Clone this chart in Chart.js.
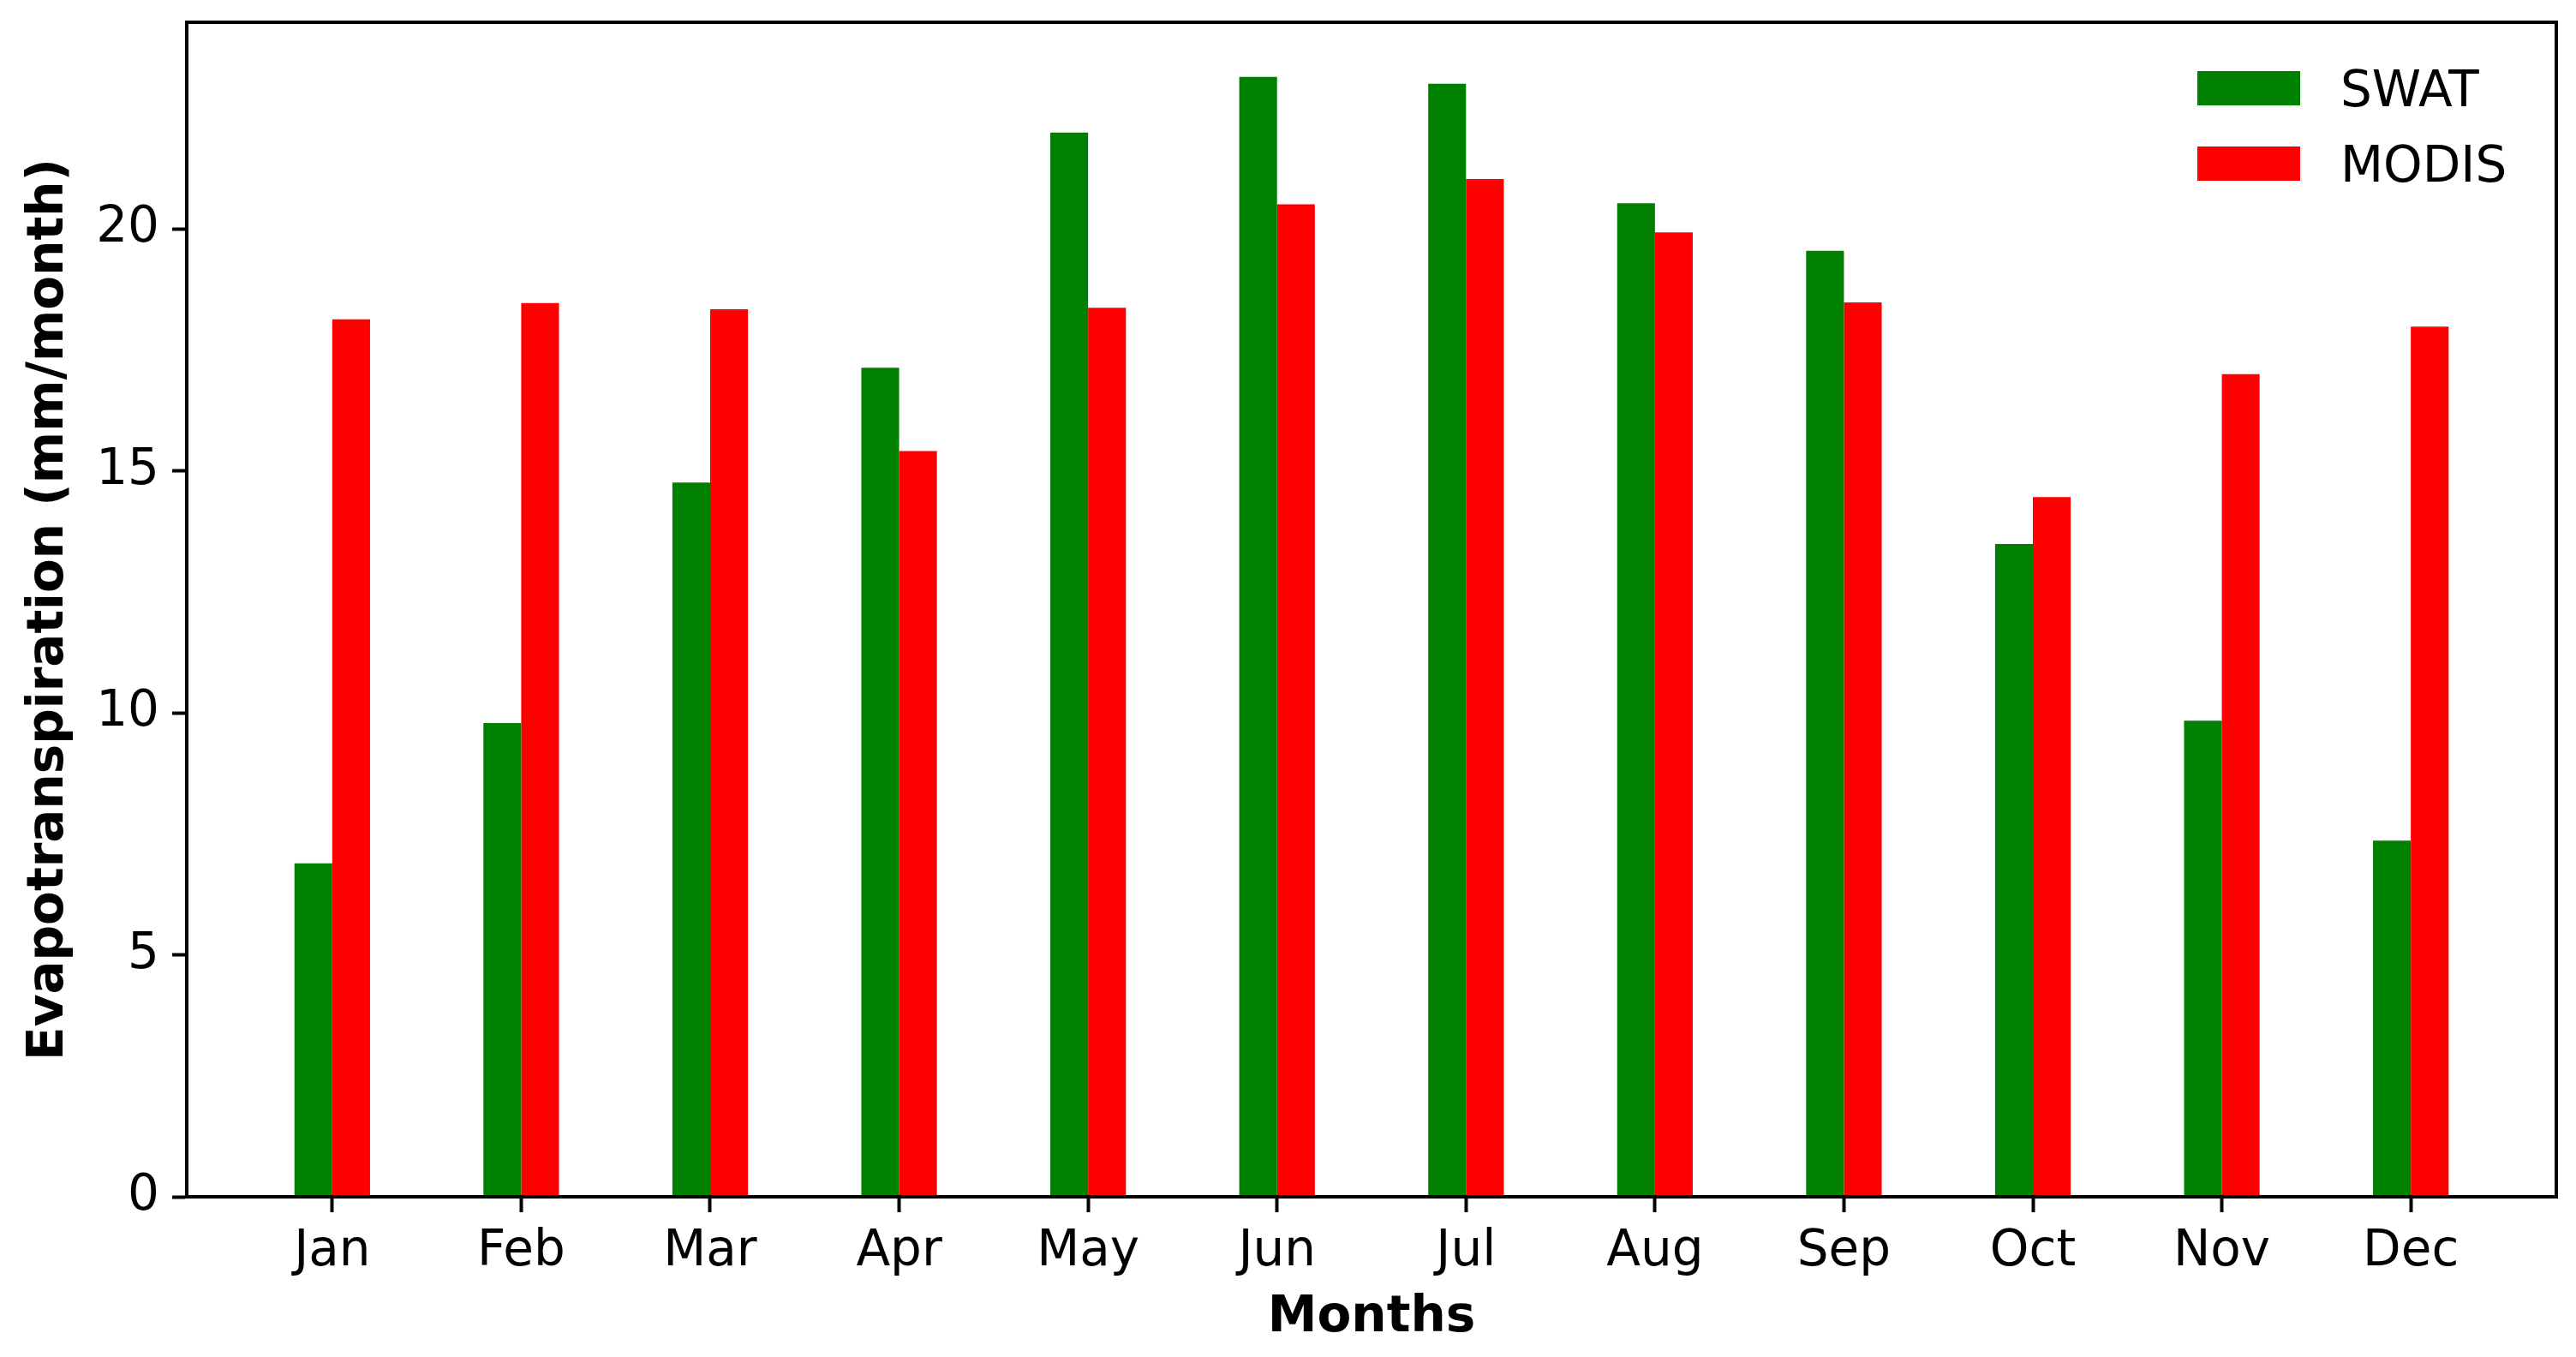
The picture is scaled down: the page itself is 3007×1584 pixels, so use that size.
<!DOCTYPE html>
<html>
<head>
<meta charset="utf-8">
<script src="https://cdn.jsdelivr.net/npm/chart.js@4.4.1/dist/chart.umd.min.js"></script>
<style>
  html, body { margin: 0; padding: 0; background: #ffffff; }
  canvas { display: block; }
</style>
</head>
<body>
<canvas id="c" width="3007" height="1584"></canvas>
<script>
const months = ['Jan', 'Feb', 'Mar', 'Apr', 'May', 'Jun', 'Jul', 'Aug', 'Sep', 'Oct', 'Nov', 'Dec'];
const swat  = [6.89, 9.79, 14.76, 17.13, 21.99, 23.14, 23.00, 20.53, 19.55, 13.49, 9.84, 7.36];
const modis = [18.13, 18.47, 18.34, 15.41, 18.37, 20.51, 21.03, 19.93, 18.48, 14.46, 17.00, 17.98];
const yTicks = [0, 5, 10, 15, 20];
const seriesNames = ['SWAT', 'MODIS'];
const seriesColors = ['#008000', '#ff0000'];
const yMax = 24.27;
const xMin = -0.77, xMax = 11.77;

const FONT = 'DejaVu Sans';

const framePlugin = {
  id: 'frame',
  afterDraw(chart) {
    const {ctx, chartArea: a} = chart;
    ctx.save();
    ctx.strokeStyle = '#000';
    ctx.lineWidth = 4;
    ctx.strokeRect(a.left, a.top, a.right - a.left, a.bottom - a.top);
    ctx.restore();
  }
};

const legendPlugin = {
  id: 'insideLegend',
  afterDraw(chart) {
    const {ctx, chartArea: a} = chart;
    ctx.save();
    ctx.font = '58px "' + FONT + '"';
    ctx.textAlign = 'left';
    ctx.textBaseline = 'alphabetic';
    chart.data.datasets.forEach((ds, i) => {
      const boxX = a.right - 419;
      const cy = a.top + 77 + i * 88;
      ctx.fillStyle = ds.backgroundColor;
      ctx.fillRect(boxX, cy - 20, 120, 40);
      ctx.fillStyle = '#000';
      ctx.fillText(ds.label, boxX + 167, cy + 21);
    });
    ctx.restore();
  }
};

new Chart(document.getElementById('c'), {
  type: 'bar',
  data: {
    datasets: [
      { label: seriesNames[0], data: months.map((m, i) => ({x: i, y: swat[i]})), backgroundColor: seriesColors[0], borderWidth: 0 },
      { label: seriesNames[1], data: months.map((m, i) => ({x: i, y: modis[i]})), backgroundColor: seriesColors[1], borderWidth: 0 }
    ]
  },
  options: {
    responsive: false,
    animation: false,
    devicePixelRatio: 1,
    categoryPercentage: 0.4,
    barPercentage: 1.0,
    layout: { padding: { left: 0, top: 26, right: 23, bottom: 0 } },
    plugins: { legend: { display: false }, tooltip: { enabled: false } },
    scales: {
      x: {
        type: 'linear',
        min: xMin, max: xMax,
        offset: false,
        afterBuildTicks(scale) { scale.ticks = months.map((m, i) => ({ value: i })); },
        afterFit(scale) { scale.height = 187; scale.paddingLeft = 0; scale.paddingRight = 0; },
        ticks: {
          autoSkip: false,
          maxRotation: 0,
          padding: 12,
          color: '#000',
          font: { family: FONT, size: 58 },
          callback: (v) => months[v]
        },
        grid: { display: true, offset: false, drawOnChartArea: false, drawTicks: true, tickLength: 18, tickWidth: 4, tickColor: '#000' },
        border: { display: true, color: '#000', width: 4 },
        title: { display: true, text: 'Months', color: '#000', font: { family: FONT, size: 58, weight: 'bold' }, padding: { top: 0, bottom: 10 } }
      },
      y: {
        type: 'linear',
        min: 0, max: yMax,
        afterBuildTicks(scale) { scale.ticks = yTicks.map(v => ({ value: v })); },
        afterFit(scale) { scale.width = 218; scale.paddingTop = 0; scale.paddingBottom = 0; },
        ticks: {
          padding: 15,
          color: '#000',
          font: { family: FONT, size: 58 },
          callback: (v) => String(v)
        },
        grid: { display: true, offset: false, drawOnChartArea: false, drawTicks: true, tickLength: 17, tickWidth: 4, tickColor: '#000' },
        border: { display: true, color: '#000', width: 4 },
        title: { display: true, text: 'Evapotranspiration (mm/month)', color: '#000', font: { family: FONT, size: 58, weight: 'bold' }, padding: { top: 23, bottom: 0 } }
      }
    }
  },
  plugins: [framePlugin, legendPlugin]
});
</script>
</body>
</html>
